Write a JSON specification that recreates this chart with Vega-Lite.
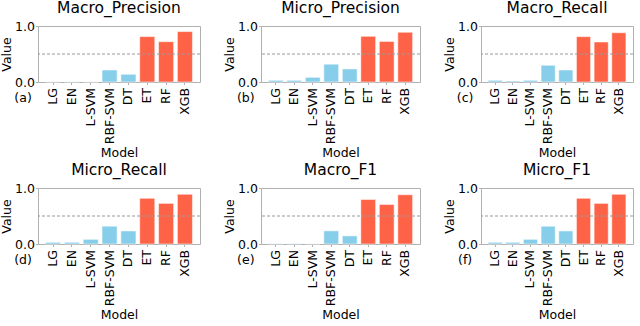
{
  "$schema": "https://vega.github.io/schema/vega-lite/v6.json",
  "padding": {"left": 0, "top": 0, "right": 0, "bottom": 0},
  "data": {"values": [
    {"metric": "Macro_Precision", "model": "LG", "value": 0.003, "group": "baseline"},
    {"metric": "Macro_Precision", "model": "EN", "value": 0.003, "group": "baseline"},
    {"metric": "Macro_Precision", "model": "L-SVM", "value": 0.002, "group": "baseline"},
    {"metric": "Macro_Precision", "model": "RBF-SVM", "value": 0.214, "group": "baseline"},
    {"metric": "Macro_Precision", "model": "DT", "value": 0.137, "group": "baseline"},
    {"metric": "Macro_Precision", "model": "ET", "value": 0.81, "group": "ensemble"},
    {"metric": "Macro_Precision", "model": "RF", "value": 0.72, "group": "ensemble"},
    {"metric": "Macro_Precision", "model": "XGB", "value": 0.9, "group": "ensemble"},
    {"metric": "Micro_Precision", "model": "LG", "value": 0.03, "group": "baseline"},
    {"metric": "Micro_Precision", "model": "EN", "value": 0.03, "group": "baseline"},
    {"metric": "Micro_Precision", "model": "L-SVM", "value": 0.083, "group": "baseline"},
    {"metric": "Micro_Precision", "model": "RBF-SVM", "value": 0.318, "group": "baseline"},
    {"metric": "Micro_Precision", "model": "DT", "value": 0.233, "group": "baseline"},
    {"metric": "Micro_Precision", "model": "ET", "value": 0.816, "group": "ensemble"},
    {"metric": "Micro_Precision", "model": "RF", "value": 0.725, "group": "ensemble"},
    {"metric": "Micro_Precision", "model": "XGB", "value": 0.888, "group": "ensemble"},
    {"metric": "Macro_Recall", "model": "LG", "value": 0.03, "group": "baseline"},
    {"metric": "Macro_Recall", "model": "EN", "value": 0.018, "group": "baseline"},
    {"metric": "Macro_Recall", "model": "L-SVM", "value": 0.03, "group": "baseline"},
    {"metric": "Macro_Recall", "model": "RBF-SVM", "value": 0.298, "group": "baseline"},
    {"metric": "Macro_Recall", "model": "DT", "value": 0.214, "group": "baseline"},
    {"metric": "Macro_Recall", "model": "ET", "value": 0.81, "group": "ensemble"},
    {"metric": "Macro_Recall", "model": "RF", "value": 0.714, "group": "ensemble"},
    {"metric": "Macro_Recall", "model": "XGB", "value": 0.88, "group": "ensemble"},
    {"metric": "Micro_Recall", "model": "LG", "value": 0.03, "group": "baseline"},
    {"metric": "Micro_Recall", "model": "EN", "value": 0.03, "group": "baseline"},
    {"metric": "Micro_Recall", "model": "L-SVM", "value": 0.083, "group": "baseline"},
    {"metric": "Micro_Recall", "model": "RBF-SVM", "value": 0.318, "group": "baseline"},
    {"metric": "Micro_Recall", "model": "DT", "value": 0.233, "group": "baseline"},
    {"metric": "Micro_Recall", "model": "ET", "value": 0.816, "group": "ensemble"},
    {"metric": "Micro_Recall", "model": "RF", "value": 0.725, "group": "ensemble"},
    {"metric": "Micro_Recall", "model": "XGB", "value": 0.888, "group": "ensemble"},
    {"metric": "Macro_F1", "model": "LG", "value": 0.005, "group": "baseline"},
    {"metric": "Macro_F1", "model": "EN", "value": 0.005, "group": "baseline"},
    {"metric": "Macro_F1", "model": "L-SVM", "value": 0.003, "group": "baseline"},
    {"metric": "Macro_F1", "model": "RBF-SVM", "value": 0.235, "group": "baseline"},
    {"metric": "Macro_F1", "model": "DT", "value": 0.145, "group": "baseline"},
    {"metric": "Macro_F1", "model": "ET", "value": 0.795, "group": "ensemble"},
    {"metric": "Macro_F1", "model": "RF", "value": 0.705, "group": "ensemble"},
    {"metric": "Macro_F1", "model": "XGB", "value": 0.88, "group": "ensemble"},
    {"metric": "Micro_F1", "model": "LG", "value": 0.03, "group": "baseline"},
    {"metric": "Micro_F1", "model": "EN", "value": 0.03, "group": "baseline"},
    {"metric": "Micro_F1", "model": "L-SVM", "value": 0.083, "group": "baseline"},
    {"metric": "Micro_F1", "model": "RBF-SVM", "value": 0.318, "group": "baseline"},
    {"metric": "Micro_F1", "model": "DT", "value": 0.233, "group": "baseline"},
    {"metric": "Micro_F1", "model": "ET", "value": 0.816, "group": "ensemble"},
    {"metric": "Micro_F1", "model": "RF", "value": 0.725, "group": "ensemble"},
    {"metric": "Micro_F1", "model": "XGB", "value": 0.888, "group": "ensemble"}
  ]},
  "columns": 3,
  "spacing": {"row": 106, "column": 61},
  "bounds": "flush",
  "concat": [
    {"width": 162, "height": 56, "title": "Macro_Precision",
     "transform": [{"filter": "datum.metric === 'Macro_Precision'"}],
     "layer": [
       {"mark": {"type": "bar", "stroke": "#ffffff", "strokeOpacity": 0.5, "strokeWidth": 1},
        "encoding": {
          "x": {"field": "model", "type": "nominal", "sort": ["LG","EN","L-SVM","RBF-SVM","DT","ET","RF","XGB"], "title": "Model", "scale": {"paddingInner": 0.2, "paddingOuter": 0.4}},
          "y": {"field": "value", "type": "quantitative", "title": "Value", "scale": {"domain": [0, 1]}, "axis": {"values": [0, 0.5, 1], "format": ".1f"}},
          "color": {"field": "group", "type": "nominal", "scale": {"domain": ["baseline","ensemble"], "range": ["#87CEEB","#FF6347"]}, "legend": null}}},
       {"transform": [{"filter": "datum.model === 'LG'"}],
        "mark": {"type": "rule", "color": "#999999", "strokeDash": [3, 2], "strokeWidth": 1},
        "encoding": {"y": {"datum": 0.5}}},
       {"transform": [{"filter": "datum.model === 'LG'"}],
        "mark": {"type": "text", "align": "center", "dx": -30, "dy": 16, "fontSize": 12.5, "font": "DejaVu Sans", "color": "black"},
        "encoding": {"x": {"field": "model", "type": "nominal", "sort": ["LG","EN","L-SVM","RBF-SVM","DT","ET","RF","XGB"]}, "y": {"datum": 0}, "text": {"value": "(a)"}}}
     ]},
    {"width": 159, "height": 56, "title": "Micro_Precision",
     "transform": [{"filter": "datum.metric === 'Micro_Precision'"}],
     "layer": [
       {"mark": {"type": "bar", "stroke": "#ffffff", "strokeOpacity": 0.5, "strokeWidth": 1},
        "encoding": {
          "x": {"field": "model", "type": "nominal", "sort": ["LG","EN","L-SVM","RBF-SVM","DT","ET","RF","XGB"], "title": "Model", "scale": {"paddingInner": 0.2, "paddingOuter": 0.4}},
          "y": {"field": "value", "type": "quantitative", "title": "Value", "scale": {"domain": [0, 1]}, "axis": {"values": [0, 0.5, 1], "format": ".1f"}},
          "color": {"field": "group", "type": "nominal", "scale": {"domain": ["baseline","ensemble"], "range": ["#87CEEB","#FF6347"]}, "legend": null}}},
       {"transform": [{"filter": "datum.model === 'LG'"}],
        "mark": {"type": "rule", "color": "#999999", "strokeDash": [3, 2], "strokeWidth": 1},
        "encoding": {"y": {"datum": 0.5}}},
       {"transform": [{"filter": "datum.model === 'LG'"}],
        "mark": {"type": "text", "align": "center", "dx": -30, "dy": 16, "fontSize": 12.5, "font": "DejaVu Sans", "color": "black"},
        "encoding": {"x": {"field": "model", "type": "nominal", "sort": ["LG","EN","L-SVM","RBF-SVM","DT","ET","RF","XGB"]}, "y": {"datum": 0}, "text": {"value": "(b)"}}}
     ]},
    {"width": 152, "height": 56, "title": "Macro_Recall",
     "transform": [{"filter": "datum.metric === 'Macro_Recall'"}],
     "layer": [
       {"mark": {"type": "bar", "stroke": "#ffffff", "strokeOpacity": 0.5, "strokeWidth": 1},
        "encoding": {
          "x": {"field": "model", "type": "nominal", "sort": ["LG","EN","L-SVM","RBF-SVM","DT","ET","RF","XGB"], "title": "Model", "scale": {"paddingInner": 0.2, "paddingOuter": 0.4}},
          "y": {"field": "value", "type": "quantitative", "title": "Value", "scale": {"domain": [0, 1]}, "axis": {"values": [0, 0.5, 1], "format": ".1f"}},
          "color": {"field": "group", "type": "nominal", "scale": {"domain": ["baseline","ensemble"], "range": ["#87CEEB","#FF6347"]}, "legend": null}}},
       {"transform": [{"filter": "datum.model === 'LG'"}],
        "mark": {"type": "rule", "color": "#999999", "strokeDash": [3, 2], "strokeWidth": 1},
        "encoding": {"y": {"datum": 0.5}}},
       {"transform": [{"filter": "datum.model === 'LG'"}],
        "mark": {"type": "text", "align": "center", "dx": -30, "dy": 16, "fontSize": 12.5, "font": "DejaVu Sans", "color": "black"},
        "encoding": {"x": {"field": "model", "type": "nominal", "sort": ["LG","EN","L-SVM","RBF-SVM","DT","ET","RF","XGB"]}, "y": {"datum": 0}, "text": {"value": "(c)"}}}
     ]},
    {"width": 162, "height": 56, "title": "Micro_Recall",
     "transform": [{"filter": "datum.metric === 'Micro_Recall'"}],
     "layer": [
       {"mark": {"type": "bar", "stroke": "#ffffff", "strokeOpacity": 0.5, "strokeWidth": 1},
        "encoding": {
          "x": {"field": "model", "type": "nominal", "sort": ["LG","EN","L-SVM","RBF-SVM","DT","ET","RF","XGB"], "title": "Model", "scale": {"paddingInner": 0.2, "paddingOuter": 0.4}},
          "y": {"field": "value", "type": "quantitative", "title": "Value", "scale": {"domain": [0, 1]}, "axis": {"values": [0, 0.5, 1], "format": ".1f"}},
          "color": {"field": "group", "type": "nominal", "scale": {"domain": ["baseline","ensemble"], "range": ["#87CEEB","#FF6347"]}, "legend": null}}},
       {"transform": [{"filter": "datum.model === 'LG'"}],
        "mark": {"type": "rule", "color": "#999999", "strokeDash": [3, 2], "strokeWidth": 1},
        "encoding": {"y": {"datum": 0.5}}},
       {"transform": [{"filter": "datum.model === 'LG'"}],
        "mark": {"type": "text", "align": "center", "dx": -30, "dy": 16, "fontSize": 12.5, "font": "DejaVu Sans", "color": "black"},
        "encoding": {"x": {"field": "model", "type": "nominal", "sort": ["LG","EN","L-SVM","RBF-SVM","DT","ET","RF","XGB"]}, "y": {"datum": 0}, "text": {"value": "(d)"}}}
     ]},
    {"width": 159, "height": 56, "title": "Macro_F1",
     "transform": [{"filter": "datum.metric === 'Macro_F1'"}],
     "layer": [
       {"mark": {"type": "bar", "stroke": "#ffffff", "strokeOpacity": 0.5, "strokeWidth": 1},
        "encoding": {
          "x": {"field": "model", "type": "nominal", "sort": ["LG","EN","L-SVM","RBF-SVM","DT","ET","RF","XGB"], "title": "Model", "scale": {"paddingInner": 0.2, "paddingOuter": 0.4}},
          "y": {"field": "value", "type": "quantitative", "title": "Value", "scale": {"domain": [0, 1]}, "axis": {"values": [0, 0.5, 1], "format": ".1f"}},
          "color": {"field": "group", "type": "nominal", "scale": {"domain": ["baseline","ensemble"], "range": ["#87CEEB","#FF6347"]}, "legend": null}}},
       {"transform": [{"filter": "datum.model === 'LG'"}],
        "mark": {"type": "rule", "color": "#999999", "strokeDash": [3, 2], "strokeWidth": 1},
        "encoding": {"y": {"datum": 0.5}}},
       {"transform": [{"filter": "datum.model === 'LG'"}],
        "mark": {"type": "text", "align": "center", "dx": -30, "dy": 16, "fontSize": 12.5, "font": "DejaVu Sans", "color": "black"},
        "encoding": {"x": {"field": "model", "type": "nominal", "sort": ["LG","EN","L-SVM","RBF-SVM","DT","ET","RF","XGB"]}, "y": {"datum": 0}, "text": {"value": "(e)"}}}
     ]},
    {"width": 152, "height": 56, "title": "Micro_F1",
     "transform": [{"filter": "datum.metric === 'Micro_F1'"}],
     "layer": [
       {"mark": {"type": "bar", "stroke": "#ffffff", "strokeOpacity": 0.5, "strokeWidth": 1},
        "encoding": {
          "x": {"field": "model", "type": "nominal", "sort": ["LG","EN","L-SVM","RBF-SVM","DT","ET","RF","XGB"], "title": "Model", "scale": {"paddingInner": 0.2, "paddingOuter": 0.4}},
          "y": {"field": "value", "type": "quantitative", "title": "Value", "scale": {"domain": [0, 1]}, "axis": {"values": [0, 0.5, 1], "format": ".1f"}},
          "color": {"field": "group", "type": "nominal", "scale": {"domain": ["baseline","ensemble"], "range": ["#87CEEB","#FF6347"]}, "legend": null}}},
       {"transform": [{"filter": "datum.model === 'LG'"}],
        "mark": {"type": "rule", "color": "#999999", "strokeDash": [3, 2], "strokeWidth": 1},
        "encoding": {"y": {"datum": 0.5}}},
       {"transform": [{"filter": "datum.model === 'LG'"}],
        "mark": {"type": "text", "align": "center", "dx": -30, "dy": 16, "fontSize": 12.5, "font": "DejaVu Sans", "color": "black"},
        "encoding": {"x": {"field": "model", "type": "nominal", "sort": ["LG","EN","L-SVM","RBF-SVM","DT","ET","RF","XGB"]}, "y": {"datum": 0}, "text": {"value": "(f)"}}}
     ]}
  ],
  "config": {
    "font": "DejaVu Sans",
    "view": {"stroke": "#b0b0b0", "strokeWidth": 1},
    "axis": {"labelFont": "DejaVu Sans", "titleFont": "DejaVu Sans", "labelFontSize": 12.5, "titleFontSize": 12.5, "titleFontWeight": "normal", "labelColor": "black", "titleColor": "black", "domain": false, "grid": false, "tickColor": "#b0b0b0", "tickSize": 2.5, "labelPadding": 1},
    "axisX": {"labelAngle": -90, "titlePadding": 3, "labelPadding": 3},
    "axisY": {"titlePadding": 1},
    "title": {"font": "DejaVu Sans", "fontSize": 15.5, "fontWeight": "normal", "frame": "group", "offset": 0, "color": "black"}
  }
}
